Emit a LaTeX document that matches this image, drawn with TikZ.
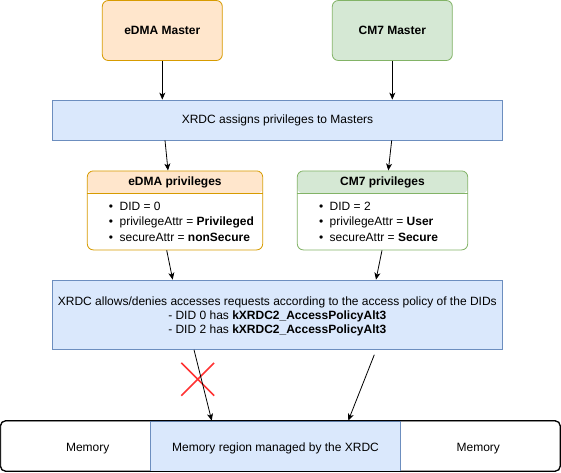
\documentclass[tikz,border=0pt]{standalone}
\usepackage{fontspec}
\setmainfont{Liberation Sans}
\usetikzlibrary{calc,arrows.meta}
\definecolor{edmafill}{HTML}{FFE6CC}
\definecolor{edmaline}{HTML}{D79B00}
\definecolor{cmfill}{HTML}{D5E8D4}
\definecolor{cmline}{HTML}{82B366}
\definecolor{xrdcfill}{HTML}{DAE8FC}
\definecolor{xrdcline}{HTML}{6C8EBF}
\definecolor{denyred}{HTML}{FF3333}
\tikzset{lane/.style={draw=#1line, fill=white, rounded corners=6pt, inner sep=0pt, minimum height=79pt,
  path picture={\fill[#1fill] (path picture bounding box.north west) rectangle ($(path picture bounding box.north east)+(0,22.6)$);}}}
\begin{document}
\begin{tikzpicture}[x=1pt,y=-1pt,line width=0.8pt,font=\fontsize{12}{14}\selectfont]

\tikzstyle{master}=[draw, rounded corners=6pt, inner sep=0pt, minimum width=120pt, minimum height=60pt, font=\fontsize{12}{14}\selectfont\bfseries];
\tikzstyle{xrdc}=[draw=xrdcline, fill=xrdcfill, inner sep=0pt];
\tikzstyle{flow}=[-{Stealth[length=7pt,width=6pt,inset=2pt]}, line width=0.8pt];
\tikzstyle{prop}=[inner sep=0pt, anchor=west, align=left, font=\fontsize{12}{15.5}\selectfont];
\tikzstyle{title}=[inner sep=0pt, font=\fontsize{12}{14}\selectfont\bfseries];
\tikzstyle{label}=[inner sep=0pt, text height=8.6pt, text depth=0pt];

\useasboundingbox (0,0) rectangle (561,472);

\node[master, draw=edmaline, fill=edmafill] (edma) at (162.3,30.5) {eDMA Master};
\node[master, draw=cmline, fill=cmfill] (cm7) at (392.3,30.5) {CM7 Master};
\node[xrdc, minimum width=450.4pt, minimum height=40pt] (assign) at (277.5,120) {XRDC assigns privileges to Masters};

\node[lane=edma, minimum width=175.4pt] (eprv) at (175,210.4) {};
\draw[edmaline] ($(eprv.north west)+(0,22.6)$) -- ($(eprv.north east)+(0,22.6)$);
\node[title] (etitle) at ($(eprv.north)+(0,11.8)$) {eDMA privileges};
\node[prop] (elist) at (108.5,221.8) {\textbullet\hspace{6.5pt}DID = 0\\ \textbullet\hspace{6.5pt}privilegeAttr = \textbf{Privileged}\\ \textbullet\hspace{6.5pt}secureAttr = \textbf{nonSecure}};

\node[lane=cm, minimum width=170.4pt] (cprv) at (382.5,210.4) {};
\draw[cmline] ($(cprv.north west)+(0,22.6)$) -- ($(cprv.north east)+(0,22.6)$);
\node[title] (ctitle) at ($(cprv.north)+(0,11.8)$) {CM7 privileges};
\node[prop] (clist) at (318.6,221.8) {\textbullet\hspace{6.5pt}DID = 2\\ \textbullet\hspace{6.5pt}privilegeAttr = \textbf{User}\\ \textbullet\hspace{6.5pt}secureAttr = \textbf{Secure}};

\node[xrdc, minimum width=450pt, minimum height=69.3pt, align=center] (policy) at (277.3,314.7) {};
\node[align=center, inner sep=0pt] (rules) at (277.3,316.5) {XRDC allows/denies accesses requests according to the access policy of the DIDs\\ - DID 0 has \textbf{kXRDC2\_AccessPolicyAlt3}\\ - DID 2 has \textbf{kXRDC2\_AccessPolicyAlt3}};

\node[draw, fill=white, rounded corners=5pt, inner sep=0pt, minimum width=559.3pt, minimum height=50pt] (mem) at (280.35,446) {};
\node[xrdc, minimum width=250.4pt, minimum height=50pt] (region) at (275.5,446) {};
\draw[rounded corners=5pt] (mem.north west) rectangle (mem.south east);
\node[label] (regtext) at (275.5,446.7) {Memory region managed by the XRDC};
\node[label] (leftmem) at (87.7,446.7) {Memory};
\node[label] (rightmem) at (478.3,446.7) {Memory};

\node[inner sep=0pt, minimum size=32pt] (deny) at (197.7,379.3) {};
\draw[denyred, line width=1.6pt] (deny.north west) -- (deny.south east) (deny.north east) -- (deny.south west);

\draw[flow] (edma.south) -- (edma.south |- assign.north);
\draw[flow] (cm7.south) -- (cm7.south |- assign.north);
\draw[flow] ($(assign.south -| edma)+(2.7,0)$) -- ($(eprv.north)+(-7,0)$);
\draw[flow] ($(assign.south -| cm7)+(-0.6,0)$) -- ($(cprv.north)+(5.8,0)$);
\draw[flow] ($(eprv.south)+(-8.3,0)$) -- ($(policy.north -| eprv)+(-2.3,0)$);
\draw[flow] ($(cprv.south)+(-0.5,0)$) -- ($(policy.north -| cprv)+(-6.5,0)$);
\draw[flow] ($(policy.south)+(-83.3,0)$) -- ($(region.north)+(-63.8,0)$);
\draw[flow] ($(policy.south)+(97,5)$) -- ($(region.north)+(72.8,0)$);
\end{tikzpicture}
\end{document}
